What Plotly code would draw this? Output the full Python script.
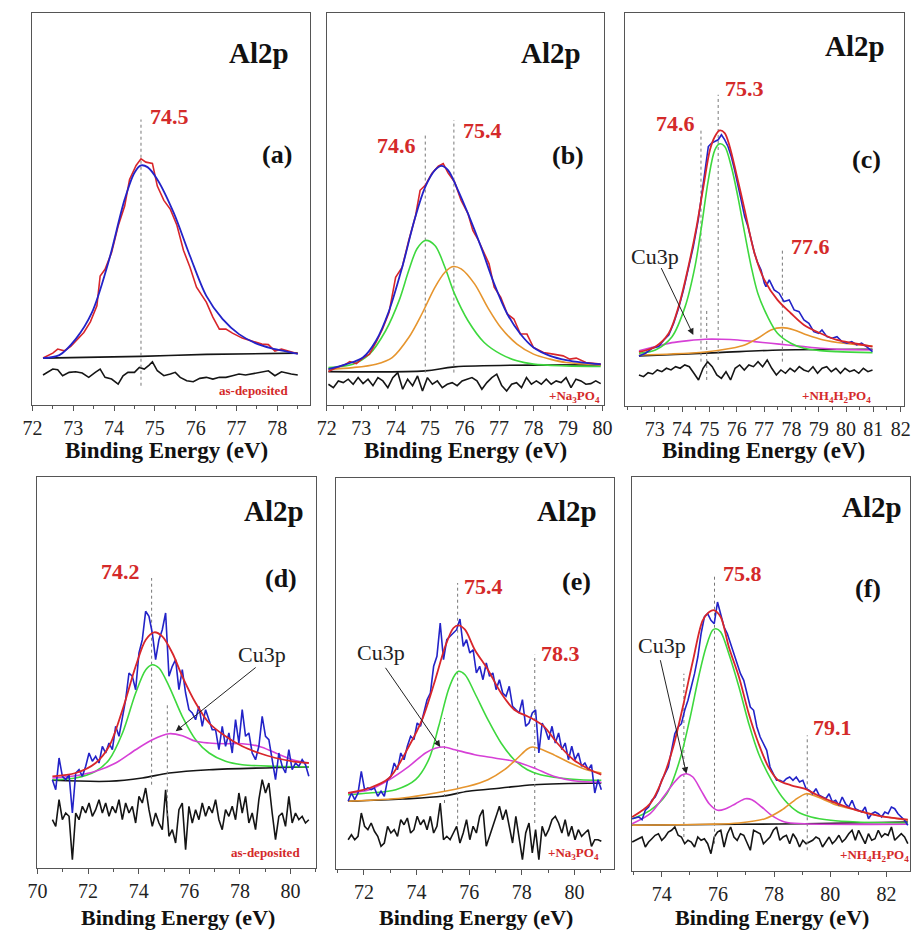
import numpy as np
import plotly.graph_objects as go

SERIF = "Liberation Serif, Times New Roman, DejaVu Serif, serif"
W, H = 922, 933

BLUE = "#2323c8"
RED = "#d8262b"
GREEN = "#3ed83e"
ORANGE = "#e6952e"
MAGENTA = "#d640d6"
BLACK = "#151515"
LRED = "#d42a2a"

# ---------------- panel (a) ----------------
A_FIT_X = [72.26, 72.66, 73.06, 73.46, 73.86, 74.26, 74.50, 74.66, 74.82, 75.06, 75.46, 75.86, 76.26, 76.66, 77.06, 77.46, 77.86, 78.26, 78.50]
A_FIT_Y = [47.0, 50.0, 66.0, 92.7, 142.7, 206.0, 232.7, 240.0, 238.3, 226.0, 192.7, 149.3, 109.3, 86.0, 71.0, 62.0, 56.7, 53.3, 51.3]
A_DATA_X = [72.26, 72.50, 72.62, 72.78, 72.94, 73.10, 73.26, 73.42, 73.58, 73.66, 73.78, 73.94, 74.10, 74.26, 74.38, 74.54, 74.66, 74.78, 74.94, 75.06,
            75.22, 75.38, 75.54, 75.70, 75.86, 76.02, 76.26, 76.42, 76.58, 76.74, 76.90, 77.14, 77.38, 77.62, 77.78, 77.94, 78.10, 78.34, 78.50]
A_DATA_Y = [47, 52, 56, 54.3, 58.7, 65.3, 72.7, 83.3, 99.3, 129.3, 136, 152.7, 179.3, 199.3, 226, 240, 246.7, 243.3, 242, 219.3,
            205, 196, 180, 155, 138, 118, 103, 88, 76, 76, 72, 67, 64, 61, 60.5, 54, 56, 53.5, 51.3]
A_BASE_X = [72.26, 74.66, 76.26, 78.50]
A_BASE_Y = [47, 48.7, 50.7, 52]
A_RES_X = [72.26, 72.50, 72.62, 72.74, 72.90, 73.06, 73.22, 73.38, 73.54, 73.66, 73.78, 73.94, 74.10, 74.22, 74.34, 74.50, 74.62, 74.74, 74.86, 74.94,
           75.06, 75.22, 75.38, 75.50, 75.62, 75.78, 75.94, 76.10, 76.26, 76.42, 76.58, 76.74, 76.90, 77.06, 77.22, 77.54, 77.78, 77.94, 78.10, 78.34, 78.50]
A_RES_Y = [30, 36, 35.3, 29.3, 32.7, 33.3, 32, 27.7, 32.7, 36, 27.7, 26, 21, 29.3, 32.7, 32.7, 37.7, 36, 40, 43.3,
           34.3, 29.3, 31, 32.7, 27.7, 24.3, 23.3, 26.7, 27.7, 26, 27.7, 27.7, 29.3, 31, 30, 32.7, 34.3, 29.3, 33.3, 31, 30]

# ---------------- panel (b) ----------------
B_FIT_X = [72.05, 72.57, 73.05, 73.43, 73.81, 74.19, 74.57, 74.86, 75.14, 75.33, 75.52, 75.81, 76.10, 76.48, 76.86, 77.24, 77.62, 78.00, 78.48, 78.95, 79.43, 79.95]
B_FIT_Y = [35.7, 40.7, 47.3, 64, 94, 137.3, 187.3, 217.3, 234, 238.3, 234, 214, 190.7, 157.3, 120.7, 90.7, 70.7, 57.3, 49, 44.7, 42.3, 40.7]
B_G_X = [72.05, 72.76, 73.24, 73.71, 74.10, 74.38, 74.62, 74.86, 75.14, 75.43, 75.71, 76.10, 76.57, 77.05, 77.52, 78.00, 78.95, 79.95]
B_G_Y = [37.3, 40.7, 50.7, 74, 104, 134, 155.7, 164, 159, 137.3, 110.7, 84, 62.3, 50.7, 44, 40.7, 39, 38.3]
B_O_X = [72.05, 72.76, 73.43, 73.90, 74.38, 74.76, 75.14, 75.43, 75.67, 75.90, 76.29, 76.67, 77.05, 77.52, 78.00, 78.48, 78.95, 79.95]
B_O_Y = [35.7, 37.3, 40.7, 47.3, 67.3, 90.7, 117.3, 132.3, 138, 135.7, 120.7, 97.3, 77.3, 60.7, 50.7, 45.7, 42.3, 40]
B_DATA_X = [72.05, 72.29, 72.52, 72.67, 72.86, 73.05, 73.24, 73.43, 73.62, 73.81, 74.00, 74.19, 74.38, 74.57, 74.71, 74.86, 75.05, 75.24, 75.38, 75.52,
            75.71, 75.90, 76.10, 76.24, 76.38, 76.57, 76.71, 76.86, 77.05, 77.24, 77.43, 77.62, 77.81, 78.00, 78.29, 78.57, 78.86, 79.05, 79.24, 79.52, 79.95]
B_DATA_Y = [33.3, 37.3, 40, 43.3, 41.3, 46.7, 50.7, 62.3, 75.7, 92.3, 127.3, 137.3, 164, 187.3, 214, 219, 230.7, 238, 240.7, 231.3,
            222.3, 204, 190.7, 174, 165.7, 150.7, 140.7, 117.3, 107.3, 90.7, 85.7, 70.7, 70.7, 57.3, 52.3, 50.7, 49, 45.7, 46.7, 42.3, 40.7]
B_BASE_X = [72.05, 74.86, 75.71, 79.95]
B_BASE_Y = [33.3, 34, 38, 40]
B_RES_Y = [20.7, 17.3, 24, 22.3, 25.7, 20.7, 27.3, 21.3, 25.7, 19.3, 27.3, 24, 17.3, 27.3, 32.3, 15.7, 25.7, 19.3, 29, 14,
           27.3, 20.7, 24, 17.3, 20.7, 22.3, 19.3, 24, 25.7, 27.3, 24, 15.7, 22.3, 27.3, 30.7, 19.3, 14, 20.7, 22.3, 17.3,
           27.3, 20.7, 24, 20.7, 25.7, 20.7, 24, 22.3, 27.3, 17.3, 25.7, 24, 20.7, 21.3, 24, 21.3]

# ---------------- panel (c) ----------------
C_FIT_X = [72.42, 73.02, 73.51, 73.87, 74.23, 74.53, 74.78, 75.02, 75.20, 75.38, 75.56, 75.74, 75.98, 76.29, 76.65, 77.01, 77.49, 77.98, 78.46, 79.06, 79.67, 80.27, 80.97]
C_FIT_Y = [54, 59.3, 72.7, 99.3, 139.3, 179.3, 219.3, 256, 269.3, 275.3, 272.7, 259.3, 232.7, 196, 152.7, 126, 106, 92.7, 81, 72.7, 66, 62.7, 59.3]
C_DATA_X = [72.42, 72.66, 72.90, 73.14, 73.33, 73.51, 73.69, 73.87, 74.05, 74.23, 74.41, 74.59, 74.71, 74.84, 74.96, 75.08, 75.20, 75.32, 75.44, 75.56,
            75.68, 75.80, 75.92, 76.04, 76.16, 76.29, 76.41, 76.53, 76.65, 76.77, 76.89, 77.01, 77.07, 77.19, 77.37, 77.55, 77.73, 77.92, 78.10, 78.28,
            78.46, 78.64, 78.82, 79.00, 79.12, 79.30, 79.49, 79.67, 79.85, 80.03, 80.21, 80.39, 80.57, 80.75, 80.97]
C_DATA_Y = [50, 52.7, 57.7, 59.3, 66, 71, 82.7, 97.7, 116, 137.7, 159.3, 186, 209.3, 239.3, 259.3, 262.7, 264.3, 266, 271, 266,
            259.3, 249.3, 236, 219.3, 206, 189.3, 179.3, 166, 152.7, 142.7, 136, 122.7, 119.3, 126, 116, 112.7, 104.3, 106, 96, 94.3,
            86, 82.7, 74.3, 72.7, 76, 69.3, 67.7, 69.3, 64.3, 62.7, 64.3, 61, 62.7, 59.3, 54.3]
C_G_X = [72.42, 73.02, 73.63, 74.11, 74.47, 74.71, 74.96, 75.20, 75.38, 75.56, 75.80, 76.04, 76.29, 76.53, 76.77, 77.13, 77.49, 77.98, 78.46, 79.06, 79.67, 80.97]
C_G_Y = [52.7, 56, 69.3, 99.3, 139.3, 179.3, 226, 256, 262, 259.3, 239.3, 209.3, 172.7, 139.3, 112.7, 89.3, 72.7, 62.7, 57.7, 55.3, 54.3, 53.3]
C_O_X = [72.42, 73.63, 74.84, 75.80, 76.29, 76.77, 77.25, 77.67, 78.10, 78.58, 79.18, 79.91, 80.97]
C_O_Y = [51, 52, 54, 57.7, 61, 67.7, 76, 78.3, 76, 71, 66, 62.7, 60]
C_M_X = [72.42, 73.02, 73.63, 74.23, 74.84, 75.44, 76.04, 76.65, 77.25, 77.86, 78.46, 79.06, 79.67, 80.97]
C_M_Y = [55.3, 59.3, 63.3, 65.3, 66.7, 66.7, 66, 64.3, 62.7, 61, 59.3, 57.7, 56.7, 56]
C_BASE_X = [72.42, 75.32, 77.61, 80.97]
C_BASE_Y = [50, 53.3, 56, 56.7]
C_RES_Y = [31, 29.3, 33.3, 32, 36, 34.3, 37.7, 36, 39.3, 37.7, 41, 39.3, 32.7, 26, 37.7, 44.3, 39.3, 31, 27.7, 34.3,
           26, 37.7, 41, 36, 41, 39.3, 44.3, 39.3, 46, 37.7, 31, 36, 32.7, 37.7, 34.3, 39.3, 36, 34.3, 39.3, 32.7,
           37.7, 39.3, 34.3, 37.7, 32.7, 37.7, 34.3, 36, 32.7, 37.7, 34.3, 36]

# ---------------- panel (d) ----------------
D_G_X = [70.59, 71.51, 72.30, 72.83, 73.36, 73.88, 74.28, 74.54, 74.80, 75.20, 75.72, 76.25, 76.78, 77.43, 78.09, 79.41, 80.72]
D_G_Y = [88.3, 90, 96.7, 108.3, 135, 175, 198.3, 203.3, 200, 181.7, 151.7, 128.3, 115, 106.7, 103.3, 101.7, 101]
D_M_X = [70.59, 71.51, 72.30, 73.09, 73.88, 74.54, 75.20, 75.72, 76.25, 76.78, 77.43, 78.09, 78.75, 79.41, 80.07, 80.72]
D_M_Y = [90, 92.3, 96.7, 105, 118.3, 128.3, 134.3, 132.3, 126.7, 125, 124.3, 124.3, 121.7, 115, 108.3, 105]
D_FIT_X = [70.59, 71.51, 72.30, 72.83, 73.36, 73.88, 74.28, 74.61, 74.93, 75.33, 75.72, 76.25, 76.78, 77.43, 78.09, 78.75, 79.41, 80.07, 80.72]
D_FIT_Y = [91.7, 95, 105, 121.7, 158.3, 201.7, 228.3, 235.7, 231.7, 215, 191.7, 165, 145, 131.7, 121.7, 115, 110, 106.7, 105]
D_BASE_X = [70.59, 72.83, 74.14, 75.20, 76.78, 80.72]
D_BASE_Y = [87.7, 86.7, 90, 95, 98.3, 101]
D_DATA_Y = [88.3, 78.3, 110, 91.7, 88.3, 93.3, 55, 95, 98.3, 91.7, 101.7, 115, 106.7, 111.7, 105, 121.7, 115, 125, 118.3, 141.7,
            131.7, 151.7, 168.3, 195, 191.7, 178.3, 215, 228.3, 256.7, 251.7, 235, 208.3, 228.3, 238.3, 255, 191.7, 201.7, 208.3, 178.3, 198.3,
            175, 158.3, 155, 148.3, 161.7, 141.7, 158.3, 148.3, 138.3, 138.3, 118.3, 141.7, 121.7, 135, 115, 148.3, 125, 158.3, 131.7, 135,
            115, 108.3, 121.7, 151.7, 131.7, 128.3, 108.3, 88.3, 115, 101.7, 95, 118.3, 98.3, 105, 101.7, 108.3, 103.3, 91.7]
D_RES_Y = [48.3, 41.7, 68.3, 48.3, 55, 51.7, 8.3, 55, 48.3, 61.7, 55, 65, 51.7, 58.3, 68.3, 55, 65, 51.7, 61.7, 55,
           68.3, 48.3, 65, 55, 61.7, 45, 71.7, 65, 80, 58.3, 41.7, 55, 45, 38.3, 78.3, 31.7, 38.3, 25, 58.3, 65,
           18.3, 61.7, 45, 58.3, 48.3, 65, 51.7, 61.7, 55, 68.3, 48.3, 38.3, 58.3, 51.7, 61.7, 48.3, 75, 55, 71.7, 45,
           55, 38.3, 68.3, 88.3, 75, 85, 55, 28.3, 51.7, 55, 41.7, 71.7, 45, 55, 48.3, 51.7, 45, 48.3]

# ---------------- panel (e) ----------------
E_G_X = [71.40, 72.21, 73.21, 73.96, 74.46, 74.84, 75.21, 75.46, 75.59, 75.84, 76.21, 76.71, 77.21, 77.71, 78.21, 78.71, 79.46, 80.21, 81.02]
E_G_Y = [74.3, 76, 79.3, 89.3, 109.3, 142.7, 179.3, 194.3, 197.7, 194.3, 176, 149.3, 126, 109.3, 99.3, 94.3, 91, 89.3, 88.7]
E_M_X = [71.40, 72.21, 72.96, 73.71, 74.34, 74.71, 75.03, 75.46, 76.21, 76.96, 77.71, 78.46, 79.21, 79.96, 81.02]
E_M_Y = [76, 79.3, 89.3, 102.7, 116, 120.7, 122, 119.3, 114.3, 111, 107.7, 101, 92.7, 88.3, 86.7]
E_O_X = [71.40, 73.46, 74.71, 75.96, 76.71, 77.34, 77.84, 78.21, 78.40, 78.71, 79.21, 79.84, 80.46, 81.02]
E_O_Y = [67.7, 71, 76, 82.7, 89.3, 99.3, 111, 120, 122, 120, 114.3, 106, 99.3, 96]
E_FIT_X = [71.40, 72.21, 72.96, 73.71, 74.21, 74.71, 75.09, 75.40, 75.59, 75.84, 76.21, 76.71, 77.21, 77.71, 78.21, 78.46, 78.84, 79.34, 79.96, 80.59, 81.02]
E_FIT_Y = [76, 81, 91, 122.7, 149.3, 189.3, 222.7, 241, 243.7, 239.3, 219.3, 199.3, 176, 159.3, 152.7, 149.3, 142.7, 126, 109.3, 99.3, 94.3]
E_BASE_X = [71.40, 73.46, 74.96, 75.96, 77.21, 78.46, 81.02]
E_BASE_Y = [67.7, 70, 72.7, 77.7, 81, 84.3, 86]
E_DATA_Y = [67.7, 76, 69.3, 76, 97.7, 79.3, 81, 79.3, 81, 72.7, 77.7, 72.7, 89.3, 92.7, 106, 99.3, 116, 109.3, 122.7, 132.7,
            129.3, 146, 142.7, 156, 169.3, 176, 202.7, 212.7, 246, 209.3, 229.3, 232.7, 236, 239.3, 250, 222.7, 229.3, 216, 219.3, 196,
            202.7, 189.3, 206, 192.7, 196, 179.3, 189.3, 176, 172.7, 182.7, 162.7, 159.3, 156, 169.3, 142.7, 146, 156, 159.3, 116, 146,
            139.3, 129.3, 142.7, 126, 136, 119.3, 126, 109.3, 122.7, 109.3, 116, 102.7, 106, 99.3, 104.3, 76, 89.3, 79.3]
E_RES_Y = [29.3, 34.3, 29.3, 32.7, 56, 42.7, 39.3, 46, 37.7, 32.7, 22.7, 26, 42.7, 36, 39.3, 32.7, 49.3, 44.3, 51, 36,
           39.3, 52.7, 44.3, 49.3, 39.3, 52.7, 36, 42.7, 66, 29.3, 32.7, 29.3, 36, 42.7, 26, 36, 49.3, 29.3, 42.7, 36,
           52.7, 59.3, 22.7, 32.7, 42.7, 52.7, 62.7, 49.3, 59.3, 42.7, 26, 52.7, 29.3, 9.3, 36, 46, 16, 39.3, 9.3, 42.7,
           32.7, 39.3, 49.3, 52.7, 46, 36, 49.3, 32.7, 42.7, 29.3, 39.3, 32.7, 36, 39.3, 22.7, 29.3, 29.3, 27.7]

# ---------------- panel (f) ----------------
F_G_X = [72.95, 73.59, 74.18, 74.64, 74.99, 75.34, 75.58, 75.81, 75.93, 76.10, 76.39, 76.75, 77.10, 77.45, 77.91, 78.38, 78.85, 79.32, 80.02, 80.95, 82.76]
F_G_Y = [52.3, 60.7, 77.3, 110.7, 150.7, 197.3, 224, 240.7, 242.3, 239, 217.3, 184, 147.3, 117.3, 90.7, 70.7, 59, 54, 50.7, 49, 48]
F_M_X = [72.95, 73.59, 74.06, 74.41, 74.70, 74.88, 75.11, 75.40, 75.69, 75.99, 76.28, 76.63, 76.98, 77.21, 77.56, 77.91, 78.38, 79.08, 82.76]
F_M_Y = [47.3, 57.3, 74, 87.3, 95.7, 97.3, 94, 80.7, 67.3, 60.7, 62.3, 67.3, 72.3, 71.3, 64, 55.7, 49, 47.3, 46.7]
F_O_X = [72.95, 75.58, 76.75, 77.68, 78.26, 78.73, 79.14, 79.55, 80.25, 80.95, 81.65, 82.76]
F_O_Y = [45.7, 46.7, 48, 52.3, 60.7, 70.7, 77.3, 74, 65.7, 60.7, 55.7, 50.7]
F_FIT_X = [72.95, 73.59, 74.06, 74.41, 74.76, 75.11, 75.46, 75.69, 75.87, 76.10, 76.39, 76.75, 77.10, 77.45, 77.80, 78.15, 78.61, 79.08, 79.55, 80.25, 80.95, 81.65, 82.76]
F_FIT_Y = [54, 67.3, 94, 124, 165, 210, 250.7, 259, 260.7, 254, 224, 194, 157.3, 127.3, 104, 90.7, 85.7, 82.3, 75.7, 67.3, 60.7, 55.7, 51.3]
F_BASE_X = [72.95, 76.75, 79.08, 82.76]
F_BASE_Y = [45.7, 46.7, 47.3, 49]
F_DATA_Y = [52.3, 53.3, 54, 51.3, 60.7, 64, 70.7, 74, 80.7, 90.7, 97.3, 104, 120.7, 137.3, 144, 147.3, 160.7, 170.7, 184, 197.3,
            214, 237.3, 254, 257.3, 250.7, 247.3, 269, 257.3, 244, 237.3, 227.3, 217.3, 207.3, 197.3, 190.7, 177.3, 164, 160.7, 144, 134,
            127.3, 120.7, 104, 97.3, 90.7, 90.7, 89, 92.3, 94, 90.7, 94, 89, 90.7, 82.3, 80.7, 77.3, 82.3, 75.7, 74, 72.3,
            77.3, 69, 70.7, 65.7, 74, 67.3, 64, 70.7, 62.3, 60.7, 59, 64, 52.3, 57.3, 59, 57.3, 54, 59, 57.3, 64,
            62.3, 57.3, 54, 50.7, 45.7]
F_RES_Y = [29, 30.7, 32.3, 34, 24, 29, 32.3, 35.7, 37.3, 30.7, 34, 39, 40.7, 44, 35.7, 34, 27.3, 30.7, 29, 24,
           34, 30.7, 32.3, 27.3, 17.3, 34, 39, 40.7, 24, 37.3, 44, 34, 30.7, 37.3, 35.7, 27.3, 20.7, 40.7, 39, 37.3,
           27.3, 30.7, 34, 40.7, 44, 30.7, 34, 35.7, 27.3, 37.3, 32.3, 24, 30.7, 27.3, 29, 30.7, 34, 32.3, 24, 29,
           34, 27.3, 30.7, 35.7, 29, 32.3, 37.3, 40.7, 30.7, 40.7, 34, 27.3, 37.3, 30.7, 32.3, 40.7, 34, 37.3, 35.7, 44,
           30.7, 34, 37.3, 34, 27.3]

# energy grids of the measured (noisy) traces
B_RES_X = np.linspace(72.05, 79.95, len(B_RES_Y))
C_RES_X = np.linspace(72.42, 80.97, len(C_RES_Y))
D_DATA_X = np.linspace(70.59, 80.72, len(D_DATA_Y))
D_RES_X = np.linspace(70.59, 80.72, len(D_RES_Y))
E_DATA_X = np.linspace(71.40, 81.02, len(E_DATA_Y))
E_RES_X = np.linspace(71.40, 81.02, len(E_RES_Y))
F_DATA_X = np.linspace(72.95, 82.76, len(F_DATA_Y))
F_RES_X = np.linspace(72.95, 82.76, len(F_RES_Y))

# tick labels per panel
A_TICKS = [72, 73, 74, 75, 76, 77, 78]
B_TICKS = [72, 73, 74, 75, 76, 77, 78, 79, 80]
C_TICKS = [73, 74, 75, 76, 77, 78, 79, 80, 81, 82]
D_TICKS = [70, 72, 74, 76, 78, 80]
E_TICKS = [72, 74, 76, 78, 80]
F_TICKS = [74, 76, 78, 80, 82]

# panel frames (pixels) and axis ranges
PANELS = [
    dict(px=(22, 306), py=(13, 405), xr=[71.98, 78.8], yr=[0, 392.7], ticks=A_TICKS, mn=0.5, t0=72),
    dict(px=(323, 606), py=(13, 405), xr=[72.0, 80.05], yr=[0, 390.7], ticks=B_TICKS, mn=0.5, t0=72),
    dict(px=(627, 912), py=(13, 406), xr=[71.9, 82.13], yr=[0, 392.7], ticks=C_TICKS, mn=0.5, t0=72),
    dict(px=(28, 312), py=(477, 868), xr=[70.0, 81.0], yr=[0, 391], ticks=D_TICKS, mn=1, t0=70),
    dict(px=(332, 616), py=(478, 869), xr=[70.92, 81.5], yr=[0, 391], ticks=E_TICKS, mn=1, t0=70),
    dict(px=(634, 918), py=(477, 871), xr=[72.93, 82.84], yr=[0, 394], ticks=F_TICKS, mn=1, t0=70),
]

fig = go.Figure()


def ax(i):
    return ("x" if i == 1 else f"x{i}"), ("y" if i == 1 else f"y{i}")


def line(i, x, y, color, width=1.6, shape="spline", dash=None):
    xa, ya = ax(i)
    fig.add_trace(go.Scatter(x=list(x), y=list(y), mode="lines", xaxis=xa, yaxis=ya,
                             line=dict(color=color, width=width, shape=shape, dash=dash,
                                       smoothing=0.9 if shape == "spline" else None),
                             showlegend=False, hoverinfo="skip"))


def vdot(i, x, y0, y1):
    line(i, [x, x], [y0, y1], "#777777", width=1, shape="linear", dash="dot")


# (a)
line(1, A_BASE_X, A_BASE_Y, BLACK)
line(1, A_RES_X, A_RES_Y, BLACK, shape="linear")
vdot(1, 74.66, 19.3, 286)
line(1, A_DATA_X, A_DATA_Y, RED, shape="linear")
line(1, A_FIT_X, A_FIT_Y, BLUE, width=1.8)
# (b)
line(2, B_BASE_X, B_BASE_Y, BLACK)
line(2, B_RES_X, B_RES_Y, BLACK, shape="linear")
vdot(2, 74.86, 32.3, 269)
vdot(2, 75.69, 32.3, 284)
line(2, B_G_X, B_G_Y, GREEN)
line(2, B_O_X, B_O_Y, ORANGE)
line(2, B_DATA_X, B_DATA_Y, RED, shape="linear")
line(2, B_FIT_X, B_FIT_Y, BLUE, width=1.8)
# (c)
line(3, C_BASE_X, C_BASE_Y, BLACK)
line(3, C_RES_X, C_RES_Y, BLACK, shape="linear")
vdot(3, 74.69, 44.3, 276)
vdot(3, 74.90, 26, 96)
vdot(3, 75.32, 46, 311)
vdot(3, 77.67, 44.3, 156)
line(3, C_M_X, C_M_Y, MAGENTA)
line(3, C_O_X, C_O_Y, ORANGE)
line(3, C_G_X, C_G_Y, GREEN)
line(3, C_DATA_X, C_DATA_Y, BLUE, shape="linear")
line(3, C_FIT_X, C_FIT_Y, RED, width=1.8)
# (d)
line(4, D_BASE_X, D_BASE_Y, BLACK)
line(4, D_RES_X, D_RES_Y, BLACK, shape="linear")
vdot(4, 74.51, 83.3, 290)
vdot(4, 75.13, 51.7, 165)
line(4, D_G_X, D_G_Y, GREEN)
line(4, D_M_X, D_M_Y, MAGENTA)
line(4, D_DATA_X, D_DATA_Y, BLUE, shape="linear")
line(4, D_FIT_X, D_FIT_Y, RED, width=1.8)
# (e)
line(5, E_BASE_X, E_BASE_Y, BLACK)
line(5, E_RES_X, E_RES_Y, BLACK, shape="linear")
vdot(5, 75.56, 44.3, 286)
vdot(5, 75.06, 66, 151)
vdot(5, 78.49, 46, 214.3)
line(5, E_G_X, E_G_Y, GREEN)
line(5, E_M_X, E_M_Y, MAGENTA)
line(5, E_O_X, E_O_Y, ORANGE)
line(5, E_DATA_X, E_DATA_Y, BLUE, shape="linear")
line(5, E_FIT_X, E_FIT_Y, RED, width=1.8)
# (f)
line(6, F_BASE_X, F_BASE_Y, BLACK)
line(6, F_RES_X, F_RES_Y, BLACK, shape="linear")
vdot(6, 74.79, 34, 197.3)
vdot(6, 75.88, 27.3, 297.3)
vdot(6, 79.18, 20.7, 135.7)
line(6, F_G_X, F_G_Y, GREEN)
line(6, F_M_X, F_M_Y, MAGENTA)
line(6, F_O_X, F_O_Y, ORANGE)
line(6, F_DATA_X, F_DATA_Y, BLUE, shape="linear")
line(6, F_FIT_X, F_FIT_Y, RED, width=1.8)

# axes
layout = dict(width=W, height=H, margin=dict(l=0, r=0, t=0, b=0),
              paper_bgcolor="white", plot_bgcolor="white", showlegend=False)
for i, p in enumerate(PANELS, start=1):
    sx = "xaxis" if i == 1 else f"xaxis{i}"
    sy = "yaxis" if i == 1 else f"yaxis{i}"
    xa, ya = ax(i)
    layout[sx] = dict(domain=[p["px"][0] / W, p["px"][1] / W], range=p["xr"], anchor=ya,
                      showline=True, mirror=True, linecolor="#555555", linewidth=1,
                      ticks="outside", ticklen=5, tickcolor="#555555", tickwidth=1,
                      tickmode="array", tickvals=p["ticks"], ticktext=[str(t) for t in p["ticks"]],
                      showgrid=False, zeroline=False,
                      tickfont=dict(family=SERIF, size=20, color="#222222"),
                      minor=dict(ticks="outside", ticklen=3, tickcolor="#555555", dtick=p["mn"],
                                 tick0=p["t0"], showgrid=False))
    layout[sy] = dict(domain=[1 - p["py"][1] / H, 1 - p["py"][0] / H], range=p["yr"], anchor=xa,
                      showline=True, mirror=True, linecolor="#555555", linewidth=1,
                      showticklabels=False, ticks="", showgrid=False, zeroline=False)
fig.update_layout(**layout)

# ---------------- texts ----------------
TITLE_POS = [(160, 450), (465, 450), (768, 450), (171, 917), (475, 917), (777, 917)]
PANEL_TAGS = ["(a)", "(b)", "(c)", "(d)", "(e)", "(f)"]
TAG_POS = [(77.98, 251), (79.0, 249), (80.75, 246), (79.64, 290), (80.09, 287.7), (81.36, 282.3)]
AL_POS = [(77.55, 352.7), (78.52, 350.7), (80.33, 359.3), (79.34, 356.7), (79.71, 357.7), (81.48, 364)]
PEAK_LABELS = [
    [(75.37, 289, "74.5")],
    [(74.03, 259, "74.6"), (76.52, 274, "75.4")],
    [(73.75, 282.7, "74.6"), (76.29, 317.7, "75.3"), (78.70, 159.3, "77.6")],
    [(73.29, 296.7, "74.2")],
    [(76.56, 282.7, "75.4"), (79.46, 216, "78.3")],
    [(76.89, 297.3, "75.8"), (80.07, 144, "79.1")],
]
SAMPLE_LABELS = ["as-deposited", "+Na<sub>3</sub>PO<sub>4</sub>", "+NH<sub>4</sub>H<sub>2</sub>PO<sub>4</sub>",
                 "as-deposited", "+Na<sub>3</sub>PO<sub>4</sub>", "+NH<sub>4</sub>H<sub>2</sub>PO<sub>4</sub>"]
SAMPLE_POS = [(77.42, 14.3), (79.19, 8), (79.67, 9.3), (79.01, 15.7), (79.96, 16), (81.59, 15.7)]
# Cu3p label position, arrow tail, arrow head (panel index)
CU3P = {3: ((73.02, 149.3), (73.21, 139.3), (74.41, 71)),
        4: ((78.88, 213.3), (78.68, 201.7), (75.46, 136.7)),
        5: ((72.65, 216.7), (72.78, 202.7), (74.90, 122)),
        6: ((74.0, 225.7), (73.94, 212.3), (74.88, 97.3))}

ann = []
for i in range(1, 7):
    xa, ya = ax(i)
    tx, ty = TITLE_POS[i - 1]
    ann.append(dict(x=tx / W, y=1 - ty / H, xref="paper", yref="paper", text="Binding Energy (eV)",
                    xanchor="center", yanchor="middle", showarrow=False,
                    font=dict(family=SERIF, size=23 if i <= 3 else 22, color="#111111", weight="bold")))
    x, y = TAG_POS[i - 1]
    ann.append(dict(x=x, y=y, xref=xa, yref=ya, text=PANEL_TAGS[i - 1], showarrow=False,
                    xanchor="center", yanchor="middle",
                    font=dict(family=SERIF, size=26, color="#111111", weight="bold")))
    x, y = AL_POS[i - 1]
    ann.append(dict(x=x, y=y, xref=xa, yref=ya, text="Al2p", showarrow=False,
                    xanchor="center", yanchor="middle",
                    font=dict(family=SERIF, size=29, color="#111111", weight="bold")))
    for (x, y, t) in PEAK_LABELS[i - 1]:
        ann.append(dict(x=x, y=y, xref=xa, yref=ya, text=t, showarrow=False,
                        xanchor="center", yanchor="middle",
                        font=dict(family=SERIF, size=22, color=LRED, weight="bold")))
    x, y = SAMPLE_POS[i - 1]
    ann.append(dict(x=x, y=y, xref=xa, yref=ya, text=SAMPLE_LABELS[i - 1], showarrow=False,
                    xanchor="center", yanchor="middle",
                    font=dict(family=SERIF, size=13, color=LRED, weight="bold")))
    if i in CU3P:
        (lx, ly), (tx_, ty_), (hx, hy) = CU3P[i]
        ann.append(dict(x=lx, y=ly, xref=xa, yref=ya, text="Cu3p", showarrow=False,
                        xanchor="center", yanchor="middle",
                        font=dict(family=SERIF, size=22, color="#222222")))
        ann.append(dict(x=hx, y=hy, ax=tx_, ay=ty_, xref=xa, yref=ya, axref=xa, ayref=ya, text="",
                        showarrow=True, arrowhead=2, arrowsize=1.3, arrowwidth=1, arrowcolor="#222222"))
fig.update_layout(annotations=ann)

fig.write_html("out.html")
